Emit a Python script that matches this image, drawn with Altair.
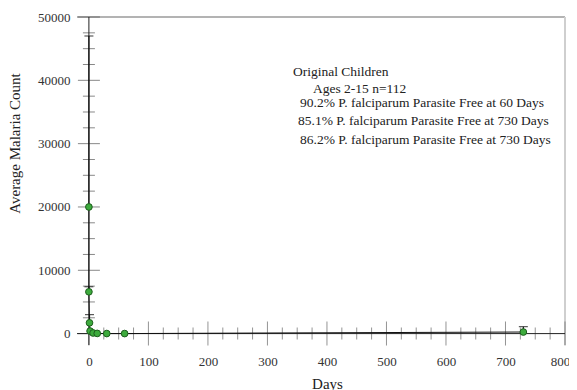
import altair as alt
import pandas as pd

# ---- data ----
days = [0, 0, 1, 2, 7, 14, 30, 60, 730]
counts = [20000, 6600, 1700, 400, 100, 30, 10, 5, 250]
err_days = [0, 0, 1, 730]
err_low = [20000, 6600, 1700, 0]
err_high = [47000, 7400, 3000, 1100]

x_major = list(range(0, 801, 100))
x_minor = [v for v in range(0, 801, 25) if v % 100]
y_major = list(range(0, 50001, 10000))
y_minor = [v for v in range(0, 50001, 2500) if v % 10000]

notes = [
    "Original  Children",
    "Ages 2-15 n=112",
    "90.2% P. falciparum Parasite Free at 60 Days",
    "85.1% P. falciparum Parasite Free at 730 Days",
    "86.2% P. falciparum Parasite Free at 730 Days",
]
note_x = [216, 236, 223, 221, 223]
note_y = [55, 72, 86, 104, 123]

FONT = "Liberation Serif"
xs = alt.Scale(domain=[-20, 800], nice=False, zero=False)
ys = alt.Scale(domain=[-1800, 50000], nice=False, zero=False)

AX = alt.Axis(
    title="Days", values=x_major, format="d", grid=False, domain=False, ticks=False, tickSize=0,
    labelFont=FONT, labelFontSize=13, labelColor="#333", labelPadding=16,
    labelBaseline="middle", labelFlush=False, labelOverlap=False,
    labelOffset={"expr": "datum.value == 800 ? -5 : 0"},
    titleFont=FONT, titleFontSize=15, titleFontWeight="normal", titleColor="#222",
    titleX=250, titleY=38, titleBaseline="middle")
AY = alt.Axis(
    title="Average Malaria Count", values=y_major, format="d", grid=False, domain=False,
    ticks=False, tickSize=0, labelFont=FONT, labelFontSize=13, labelColor="#333",
    labelPadding=7, labelFlush=False, labelOverlap=False,
    titleFont=FONT, titleFontSize=15, titleFontWeight="normal", titleColor="#222",
    titleX=-63, titleY=126, titleBaseline="middle", titleAlign="center", titleAngle=270)

pts = pd.DataFrame({"day": days, "count": counts})
err = pd.DataFrame({"day": err_days, "lo": err_low, "hi": err_high})

points = alt.Chart(pts).mark_point(
    filled=True, size=45, fill="#3dab3d", stroke="#1d5e1d", strokeWidth=1, opacity=1
).encode(
    x=alt.X("day:Q", scale=xs, axis=AX),
    y=alt.Y("count:Q", scale=ys, axis=AY),
)

line = alt.Chart(pts).mark_line(color="#111", strokeWidth=1).encode(
    x=alt.X("day:Q", scale=xs, axis=AX),
    y=alt.Y("count:Q", scale=ys, axis=AY),
    order=alt.Order("day:Q"),
)

ebar = alt.Chart(err).mark_rule(color="#111", strokeWidth=1.2).encode(
    x=alt.X("day:Q", scale=xs, axis=AX),
    y=alt.Y("lo:Q", scale=ys, axis=AY),
    y2="hi:Q",
)
ecap = alt.Chart(err).mark_tick(orient="horizontal", size=9, thickness=1.2, color="#111").encode(
    x=alt.X("day:Q", scale=xs, axis=AX),
    y=alt.Y("hi:Q", scale=ys, axis=AY),
)

def xticks(vals, size):
    return alt.Chart(pd.DataFrame({"v": vals})).mark_tick(
        orient="vertical", size=size, thickness=1, color="#666"
    ).encode(x=alt.X("v:Q", scale=xs, axis=AX), y=alt.YDatum(0, scale=ys, axis=AY))

def yticks(vals, size):
    return alt.Chart(pd.DataFrame({"v": vals})).mark_tick(
        orient="horizontal", size=size, thickness=1, color="#555"
    ).encode(y=alt.Y("v:Q", scale=ys, axis=AY), x=alt.XDatum(0, scale=xs, axis=AX))

xaxis_line = alt.Chart(pd.DataFrame({"v": [0]})).mark_rule(color="#222", strokeWidth=1).encode(
    y=alt.Y("v:Q", scale=ys, axis=AY))
yaxis_line = alt.Chart(pd.DataFrame({"v": [0]})).mark_rule(color="#222", strokeWidth=1).encode(
    x=alt.X("v:Q", scale=xs, axis=AX))
top_line = alt.Chart(pd.DataFrame({"v": [50000]})).mark_rule(color="#9a9a9a", strokeWidth=1.5).encode(
    y=alt.Y("v:Q", scale=ys, axis=AY))
right_line = alt.Chart(pd.DataFrame({"v": [800]})).mark_rule(color="#cfcfcf", strokeWidth=2).encode(
    x=alt.X("v:Q", scale=xs, axis=AX))

texts = []
for t, tx, ty in zip(notes, note_x, note_y):
    texts.append(alt.Chart(pd.DataFrame({"t": [t]})).mark_text(
        align="left", baseline="middle", font=FONT, fontSize=13.5, color="#222"
    ).encode(text="t:N", x=alt.value(tx), y=alt.value(ty)))

chart = alt.layer(
    top_line, right_line,
    xticks(x_minor, 12), xticks(x_major, 24), yticks(y_minor, 12), yticks(y_major, 22),
    xaxis_line, yaxis_line, line, ebar, ecap, points, *texts
).properties(
    width=488, height=328,
    padding={"left": 69, "top": 9, "right": 4, "bottom": 45},
    autosize=alt.AutoSizeParams(type="none"),
).configure_view(stroke=None)

chart.save("out.html", embed_options={"renderer": "svg", "actions": False})
